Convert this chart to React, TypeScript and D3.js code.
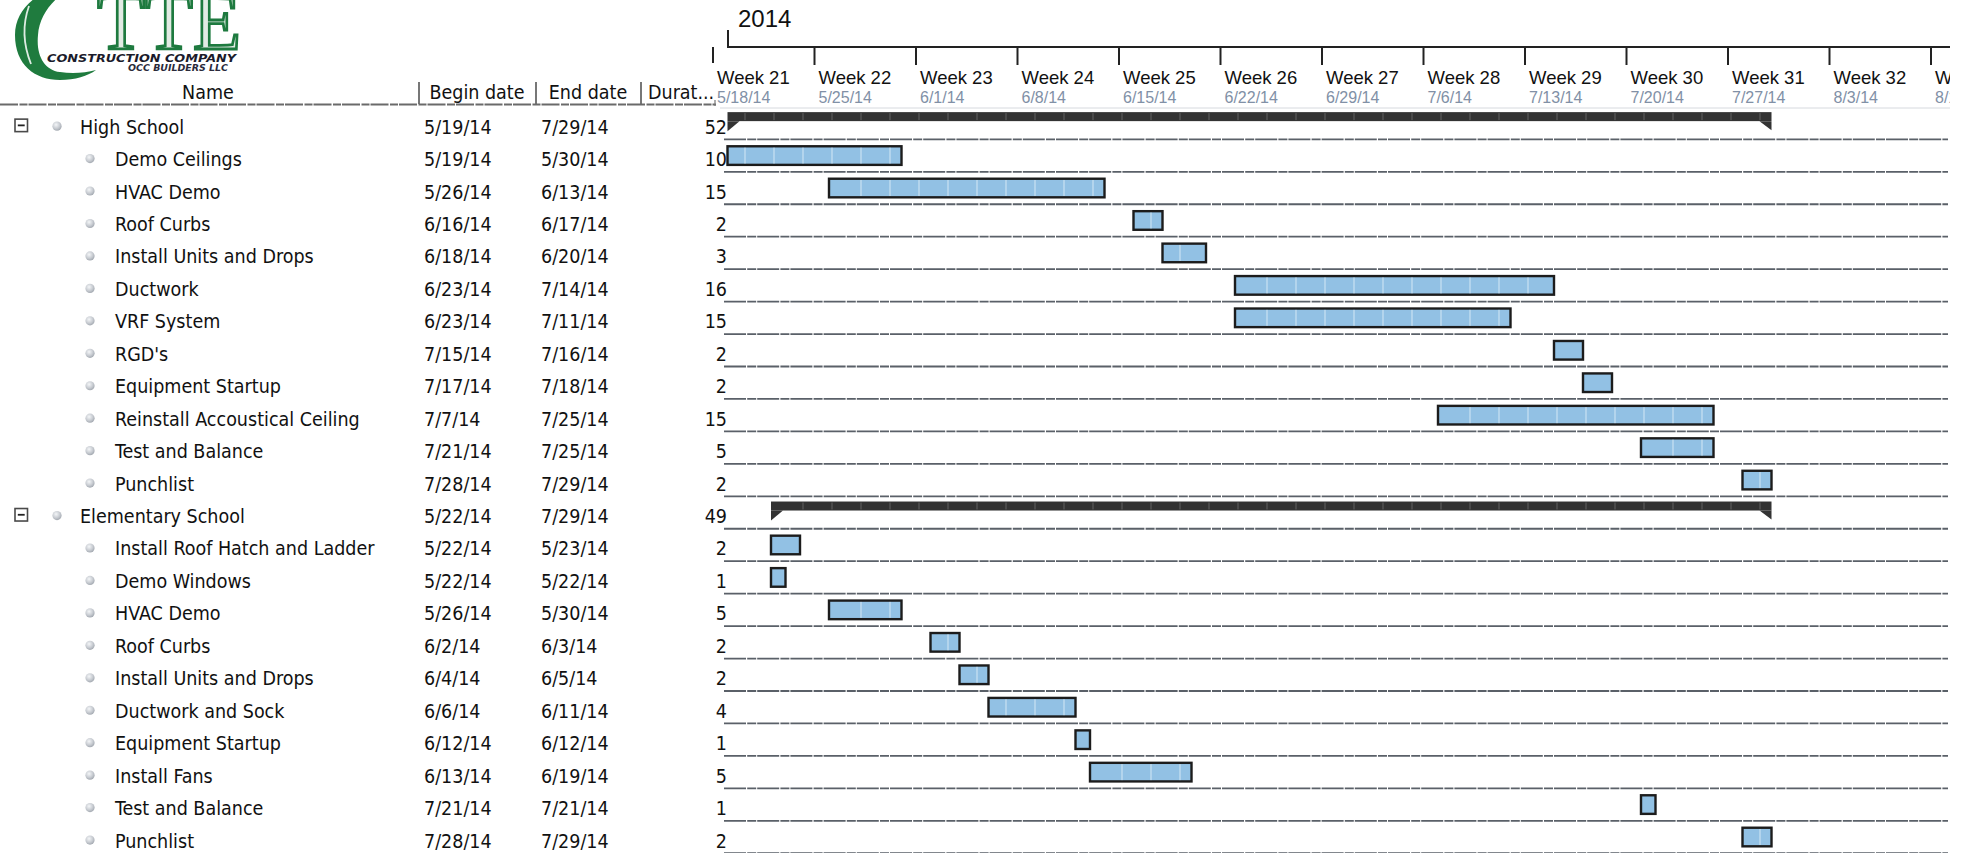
import React from "react";
import * as d3 from "d3";

const taskNames = [
  "High School", "Demo Ceilings", "HVAC Demo", "Roof Curbs", "Install Units and Drops",
  "Ductwork", "VRF System", "RGD's", "Equipment Startup", "Reinstall Accoustical Ceiling",
  "Test and Balance", "Punchlist",
  "Elementary School", "Install Roof Hatch and Ladder", "Demo Windows", "HVAC Demo",
  "Roof Curbs", "Install Units and Drops", "Ductwork and Sock", "Equipment Startup",
  "Install Fans", "Test and Balance", "Punchlist",
];
const beginDates = [
  "5/19/14", "5/19/14", "5/26/14", "6/16/14", "6/18/14", "6/23/14", "6/23/14", "7/15/14",
  "7/17/14", "7/7/14", "7/21/14", "7/28/14",
  "5/22/14", "5/22/14", "5/22/14", "5/26/14", "6/2/14", "6/4/14", "6/6/14", "6/12/14",
  "6/13/14", "7/21/14", "7/28/14",
];
const endDates = [
  "7/29/14", "5/30/14", "6/13/14", "6/17/14", "6/20/14", "7/14/14", "7/11/14", "7/16/14",
  "7/18/14", "7/25/14", "7/25/14", "7/29/14",
  "7/29/14", "5/23/14", "5/22/14", "5/30/14", "6/3/14", "6/5/14", "6/11/14", "6/12/14",
  "6/19/14", "7/21/14", "7/29/14",
];
const durations = [52, 10, 15, 2, 3, 16, 15, 2, 2, 15, 5, 2, 49, 2, 1, 5, 2, 2, 4, 1, 5, 1, 2];
const isGroup = [
  true, false, false, false, false, false, false, false, false, false, false, false,
  true, false, false, false, false, false, false, false, false, false, false,
];
const weekLabels = [
  "Week 21", "Week 22", "Week 23", "Week 24", "Week 25", "Week 26", "Week 27",
  "Week 28", "Week 29", "Week 30", "Week 31", "Week 32", "Week 33",
];
const weekDates = [
  "5/18/14", "5/25/14", "6/1/14", "6/8/14", "6/15/14", "6/22/14", "6/29/14",
  "7/6/14", "7/13/14", "7/20/14", "7/27/14", "8/3/14", "8/10/14",
];
const yearLabel = "2014";
const headers = ["Name", "Begin date", "End date", "Durat..."];

const parse = (s: string) => {
  const [m, d, y] = s.split("/").map(Number);
  return new Date(Date.UTC(2000 + y, m - 1, d));
};

const W = 1961;
const H = 853;
const CLIP_R = 1950;
const domainStart = parse(weekDates[0]);
const x = d3
  .scaleUtc()
  .domain([domainStart, d3.utcDay.offset(domainStart, 100)])
  .range([713, 713 + 100 * 14.5]);

const rowY = d3
  .scaleLinear()
  .domain([0, 1])
  .range([106.9, 139.35]);

const tableFont = "'DejaVu Sans Condensed', 'DejaVu Sans', sans-serif";
const axisFont = "'Liberation Sans', Arial, sans-serif";

export default function App() {
  const rows = taskNames.map((name, i) => {
    const b = parse(beginDates[i]);
    const e = d3.utcDay.offset(parse(endDates[i]), 1);
    return { name, i, b, e, dur: durations[i], group: isGroup[i], bs: beginDates[i], es: endDates[i] };
  });

  return (
    <svg
      width={W}
      height={H}
      style={{ position: "absolute", left: 0, top: 0, background: "#fff" }}
      fontFamily={tableFont}
    >
      <defs>
        <radialGradient id="dot" cx="40%" cy="35%" r="70%">
          <stop offset="0%" stopColor="#f4f6f8" />
          <stop offset="60%" stopColor="#c6cad0" />
          <stop offset="100%" stopColor="#9ea4ac" />
        </radialGradient>
        <clipPath id="chartClip">
          <rect x={0} y={0} width={CLIP_R} height={H} />
        </clipPath>
      </defs>

      {/* Logo */}
      <g>
        <path
          d="M 100 -20 C 55 -20, 15 0, 15 35 C 15 65, 35 80, 60 80 C 75 80, 88 76, 96 70 C 85 73, 72 74, 60 72 C 44 70, 36 55, 38 35 C 40 5, 70 -18, 100 -20 Z"
          fill="#1f7b3e"
        />
        <path d="M 29 6 Q 19 34 31 64" stroke="#ffffff" strokeWidth={1.8} fill="none" opacity={0.85} />
        <text
          x={97}
          y={49}
          fontFamily="'Liberation Serif', 'DejaVu Serif', serif"
          fontSize={82}
          fill="#e2ebe4"
          stroke="#1e7a3f"
          strokeWidth={2.8}
          textLength={144}
          lengthAdjust="spacingAndGlyphs"
        >
          TTE
        </text>
        <text
          x={47}
          y={62}
          fontFamily="'DejaVu Sans', sans-serif"
          fontWeight="bold"
          fontStyle="italic"
          fontSize={11}
          fill="#1b1b2b"
          textLength={189}
          lengthAdjust="spacingAndGlyphs"
        >
          CONSTRUCTION COMPANY
        </text>
        <text
          x={128}
          y={71}
          fontFamily="'DejaVu Sans', sans-serif"
          fontWeight="bold"
          fontStyle="italic"
          fontSize={8}
          fill="#2a2a3a"
          textLength={100}
          lengthAdjust="spacingAndGlyphs"
        >
          OCC BUILDERS LLC
        </text>
      </g>

      {/* Table header */}
      <g fontSize={19.5} fill="#111">
        <text x={208} y={99} textAnchor="middle">{headers[0]}</text>
        <text x={477} y={99} textAnchor="middle">{headers[1]}</text>
        <text x={588} y={99} textAnchor="middle">{headers[2]}</text>
        <text x={648} y={99}>{headers[3]}</text>
        {[419, 536, 641].map((sx) => (
          <line key={sx} x1={sx} x2={sx} y1={82} y2={104} stroke="#555" strokeWidth={1.6} />
        ))}
        <line x1={0} x2={716} y1={104.5} y2={104.5} stroke="#6a6a6a" strokeWidth={2} strokeDasharray="18 1.5 8 1" />
        <line x1={715} x2={715} y1={100} y2={106} stroke="#777" strokeWidth={1.2} />
      </g>

      {/* Timeline header */}
      <g fontFamily={axisFont} clipPath="url(#chartClip)">
        <text x={738} y={27} fontSize={24} fill="#111">{yearLabel}</text>
        <line x1={728} x2={728} y1={30} y2={47} stroke="#222" strokeWidth={2} />
        <line x1={727} x2={W} y1={47} y2={47} stroke="#222" strokeWidth={2} />
        {weekLabels.map((lab, k) => {
          const d = d3.utcDay.offset(domainStart, 7 * k);
          const xx = x(d);
          return (
            <g key={lab}>
              <line x1={xx} x2={xx} y1={47} y2={k === 0 ? 63 : 65} stroke="#222" strokeWidth={2} />
              <text x={xx + 4} y={84} fontSize={18.5} fill="#111">{lab}</text>
              <text x={xx + 4} y={102.5} fontSize={16} fill="#8190a6">{weekDates[k]}</text>
            </g>
          );
        })}
        <line x1={720} x2={W} y1={108} y2={108} stroke="#d6d9de" strokeWidth={1} />
      </g>

      {/* Row separators */}
      <g>
        {rows.map((r) => (
          <line
            key={"sep" + r.i}
            x1={724}
            x2={1948}
            y1={rowY(r.i + 1)}
            y2={rowY(r.i + 1)}
            stroke="#5a6068"
            strokeWidth={1.8}
            strokeDasharray="22 1.2 9 1"
          />
        ))}
      </g>

      {/* Table rows */}
      <g fontSize={19.5} fill="#111">
        {rows.map((r) => {
          const cy = (rowY(r.i) + rowY(r.i + 1)) / 2;
          const ty = cy + 3.5 + 7;
          return (
            <g key={"row" + r.i}>
              {r.group && (
                <g>
                  <rect x={15} y={cy - 4} width={12.5} height={12.5} fill="#fff" stroke="#4a4a4a" strokeWidth={1.6} />
                  <line x1={17.8} x2={24.7} y1={cy + 2.25} y2={cy + 2.25} stroke="#222" strokeWidth={1.8} />
                </g>
              )}
              <circle cx={r.group ? 57 : 90} cy={cy + 3} r={4.6} fill="url(#dot)" />
              <text x={r.group ? 80 : 115} y={ty}>{r.name}</text>
              <text x={424} y={ty}>{r.bs}</text>
              <text x={541} y={ty}>{r.es}</text>
              <text x={727} y={ty} textAnchor="end">{r.dur}</text>
            </g>
          );
        })}
      </g>

      {/* Bars */}
      <g clipPath="url(#chartClip)">
        {rows.map((r) => {
          const cy = (rowY(r.i) + rowY(r.i + 1)) / 2;
          const x0 = x(r.b);
          const x1 = x(r.e);
          const inner = d3.utcDay
            .range(r.b, r.e)
            .filter((d) => d3.utcDay.count(domainStart, d) % 2 === 0 && +d > +r.b);
          if (r.group) {
            const top = cy - 11;
            const bot = cy - 2;
            return (
              <g key={"bar" + r.i}>
                <rect x={x0} y={top} width={x1 - x0} height={bot - top} fill="#333333" />
                {inner.map((d) => (
                  <line
                    key={+d}
                    x1={x(d) + 3}
                    x2={x(d) + 3}
                    y1={top + 1}
                    y2={bot - 1}
                    stroke="#8a8a8a"
                    strokeWidth={0.8}
                    opacity={0.7}
                  />
                ))}
                <path d={`M${x0},${bot} L${x0 + 12},${bot} L${x0},${cy + 8} Z`} fill="#333333" />
                <path d={`M${x1 - 12},${bot} L${x1},${bot} L${x1},${cy + 7} Z`} fill="#333333" />
              </g>
            );
          }
          return (
            <g key={"bar" + r.i}>
              <rect
                x={x0}
                y={cy - 9.3}
                width={x1 - x0}
                height={18.6}
                fill="#92c1e4"
                stroke="#1c1c1c"
                strokeWidth={2.4}
              />
              {inner.map((d) => (
                <line
                  key={+d}
                  x1={x(d) + 3}
                  x2={x(d) + 3}
                  y1={cy - 8}
                  y2={cy + 8}
                  stroke="#e6f2fb"
                  strokeWidth={1}
                  opacity={0.8}
                />
              ))}
            </g>
          );
        })}
      </g>
    </svg>
  );
}
